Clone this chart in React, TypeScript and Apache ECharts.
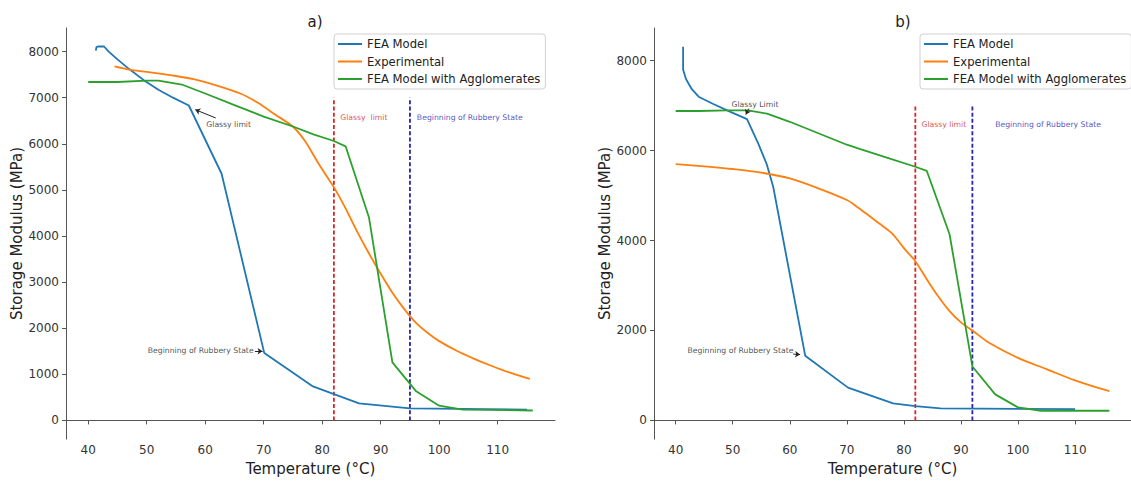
import React, { useEffect, useRef } from "react";
import * as echarts from "echarts";

// Axis ticks
const X_TICKS = [40, 50, 60, 70, 80, 90, 100, 110];
const Y_TICKS_A = [0, 1000, 2000, 3000, 4000, 5000, 6000, 7000, 8000];
const Y_TICKS_B = [0, 2000, 4000, 6000, 8000];

const SERIES_NAMES = ["FEA Model", "Experimental", "FEA Model with Agglomerates"];

// Panel a) — temperature (°C), storage modulus (MPa)
const FEA_A: [number, number][] = [
  [41.3, 8020], [41.4, 8095], [41.7, 8110], [42.7, 8110], [43.5, 8000], [45, 7830],
  [47, 7620], [49.5, 7380], [52, 7170], [54.5, 7000], [57.2, 6830], [62.8, 5350],
  [70.1, 1460], [78.3, 745], [86.3, 370], [95, 260], [115, 235],
];
const EXP_A: [number, number][] = [
  [44.5, 7680], [47, 7610], [50, 7560], [55, 7470], [58, 7400], [62, 7260], [66, 7090],
  [69, 6890], [72, 6630], [75, 6370], [77, 6070], [79, 5650], [81, 5250], [82, 5060],
  [84, 4600], [86, 4090], [88, 3620], [90, 3180], [92, 2770], [94, 2420], [96, 2120],
  [98, 1900], [100, 1720], [103, 1510], [106, 1335], [109, 1180], [112, 1040], [115.5, 900],
];
const AGG_A: [number, number][] = [
  [40, 7340], [45, 7340], [50, 7370], [52, 7370], [56, 7285], [60, 7090], [65, 6840],
  [70, 6590], [75, 6375], [78.5, 6205], [82, 6060], [84, 5945], [88, 4400], [92, 1260],
  [96, 640], [100, 320], [104, 235], [116, 215],
];

// Panel b)
const FEA_B: [number, number][] = [
  [41.3, 8310], [41.3, 7800], [41.8, 7590], [42.8, 7370], [44.1, 7190], [46.5, 7040],
  [49.6, 6860], [52.5, 6700], [54.5, 6150], [56, 5680], [57.1, 5190], [62.7, 1440],
  [70.2, 730], [78.1, 380], [82, 320], [86.4, 270], [110, 250],
];
const EXP_B: [number, number][] = [
  [40, 5700], [45, 5650], [50, 5590], [55, 5510], [60, 5380], [65, 5160], [70, 4900],
  [72, 4730], [74, 4540], [76, 4350], [78, 4150], [80, 3830], [82, 3540], [84, 3140],
  [86, 2760], [88, 2430], [90, 2180], [92, 2000], [95, 1720], [100, 1390], [105, 1140],
  [110, 890], [116, 650],
];
const AGG_B: [number, number][] = [
  [40, 6880], [44, 6880], [49, 6895], [52.7, 6895], [56, 6820], [60, 6640], [65, 6385],
  [70, 6130], [72.5, 6025], [77, 5845], [82, 5640], [84, 5550], [88, 4140], [92, 1200],
  [96, 580], [100, 290], [104, 215], [116, 215],
];

// Transition markers: [glassy limit, beginning of rubbery state] temperatures
const LIMITS_A = [82, 95];
const LIMITS_B = [82, 92];
const LIMIT_TOP = 7000;

const COLORS = ["#1f77b4", "#ff7f0e", "#2ca02c"];
const RED = "#d62728";
const NAVY = "#2626b0";
const FONT = "DejaVu Sans";

type Note = { text: string; at: [number, number]; color: string };
type Arrow = { from: [number, number]; to: [number, number] };

const NOTES_A: Note[] = [
  { text: "Glassy limit", at: [60.1, 6418], color: "#222" },
  { text: "Beginning of Rubbery State", at: [50.1, 1511], color: "#222" },
  { text: "Glassy  limit", at: [83.0, 6560], color: RED },
  { text: "Beginning of Rubbery State", at: [96.1, 6560], color: NAVY },
];
const ARROWS_A: Arrow[] = [
  { from: [61.8, 6560], to: [58.3, 6740] },
  { from: [68.5, 1500], to: [69.8, 1500] },
];
const NOTES_B: Note[] = [
  { text: "Glassy Limit", at: [49.7, 7017], color: "#222" },
  { text: "Beginning of Rubbery State", at: [42.0, 1563], color: "#222" },
  { text: "Glassy limit", at: [83.0, 6570], color: RED },
  { text: "Beginning of Rubbery State", at: [95.9, 6570], color: NAVY },
];
const ARROWS_B: Arrow[] = [
  { from: [52.8, 6930], to: [52.3, 6800] },
  { from: [60.6, 1475], to: [61.8, 1465] },
];

function panelSeries(
  idx: number,
  curves: [number, number][][],
  limits: number[],
  notes: Note[],
  arrows: Arrow[]
) {
  const out: any[] = [];
  curves.forEach((d, i) => {
    out.push({
      type: "line",
      name: SERIES_NAMES[i],
      xAxisIndex: idx,
      yAxisIndex: idx,
      data: d,
      symbol: "none",
      // the measured curve is a smooth trace; the model curves are piecewise linear
      smooth: i === 1 ? 0.3 : false,
      color: COLORS[i],
      lineStyle: { width: 1.8, color: COLORS[i] },
      z: 3,
    });
  });
  limits.forEach((t, i) => {
    out.push({
      type: "line",
      name: `limit-${idx}-${i}`,
      xAxisIndex: idx,
      yAxisIndex: idx,
      data: [
        [t, 0],
        [t, LIMIT_TOP],
      ],
      symbol: "none",
      lineStyle: { width: 1.8, color: i === 0 ? RED : NAVY, type: [4, 2.2] },
      z: 2,
    });
  });
  out.push({
    type: "scatter",
    name: `notes-${idx}`,
    xAxisIndex: idx,
    yAxisIndex: idx,
    symbolSize: 1,
    itemStyle: { color: "rgba(0,0,0,0)" },
    data: notes.map((n) => ({
      value: n.at,
      label: {
        show: true,
        position: "right",
        distance: 0,
        formatter: n.text,
        color: n.color,
        fontSize: 7.7,
        fontFamily: FONT,
      },
    })),
    z: 4,
  });
  out.push({
    type: "line",
    name: `arrows-${idx}`,
    xAxisIndex: idx,
    yAxisIndex: idx,
    data: [],
    markLine: {
      silent: true,
      symbol: ["none", "arrow"],
      symbolSize: 5,
      label: { show: false },
      lineStyle: { color: "#222", width: 1, type: "solid" },
      data: arrows.map((a) => [{ coord: a.from }, { coord: a.to }]),
    },
  });
  return out;
}

const plain = (v: number) => String(v);

export default function App() {
  const ref = useRef<HTMLDivElement>(null);

  useEffect(() => {
    if (!ref.current) return;
    const chart = echarts.init(ref.current, undefined, { renderer: "svg" });
    const line = { show: true, lineStyle: { color: "#555", width: 1 } };
    const xAxis = (gridIndex: number) => ({
      type: "value",
      gridIndex,
      min: 36.2,
      max: 119.8,
      axisLine: line,
      splitLine: { show: false },
      axisTick: { show: true, length: 4, lineStyle: { color: "#555" }, customValues: X_TICKS },
      axisLabel: { color: "#333", fontSize: 12, margin: 5, fontFamily: FONT, customValues: X_TICKS, formatter: plain },
      name: "Temperature (°C)",
      nameLocation: "middle",
      nameGap: 17,
      nameTextStyle: { fontSize: 15, color: "#222", fontFamily: FONT },
    });
    const yAxis = (gridIndex: number, min: number, max: number, ticks: number[]) => ({
      type: "value",
      gridIndex,
      min,
      max,
      axisLine: line,
      splitLine: { show: false },
      axisTick: { show: true, length: 4, lineStyle: { color: "#555" }, customValues: ticks },
      axisLabel: { color: "#333", fontSize: 12, margin: 7, fontFamily: FONT, customValues: ticks, formatter: plain },
      name: "Storage Modulus (MPa)",
      nameLocation: "middle",
      nameGap: 31,
      nameTextStyle: { fontSize: 15, color: "#222", fontFamily: FONT },
    });
    const legend = (left: number) => ({
      orient: "vertical",
      left,
      top: 34,
      data: SERIES_NAMES,
      icon: "rect",
      itemWidth: 24,
      itemHeight: 2,
      itemGap: 3.5,
      padding: [3, 5, 3, 4],
      backgroundColor: "#fff",
      borderColor: "#d0d0d0",
      borderWidth: 1,
      borderRadius: 3,
      textStyle: { fontSize: 11.6, color: "#222", fontFamily: FONT, lineHeight: 14 },
      selectedMode: false,
    });

    chart.setOption({
      animation: false,
      backgroundColor: "#fff",
      textStyle: { fontFamily: FONT },
      title: [
        { text: "a)", left: 310, top: 9, textAlign: "center", textStyle: { fontSize: 15, fontWeight: "normal", color: "#222", fontFamily: FONT } },
        { text: "b)", left: 898, top: 9, textAlign: "center", textStyle: { fontSize: 15, fontWeight: "normal", color: "#222", fontFamily: FONT } },
      ],
      grid: [
        { left: 66, top: 28, width: 489, height: 420 },
        { left: 654, top: 28, width: 489, height: 420 },
      ],
      xAxis: [xAxis(0), xAxis(1)],
      yAxis: [yAxis(0, -405, 8511, Y_TICKS_A), yAxis(1, -415, 8725, Y_TICKS_B)],
      legend: [legend(334), legend(920)],
      series: [
        ...panelSeries(0, [FEA_A, EXP_A, AGG_A], LIMITS_A, NOTES_A, ARROWS_A),
        ...panelSeries(1, [FEA_B, EXP_B, AGG_B], LIMITS_B, NOTES_B, ARROWS_B),
      ],
    });
    return () => chart.dispose();
  }, []);

  return (
    <div
      ref={ref}
      style={{ position: "fixed", left: 0, top: 0, width: 1131, height: 481, overflow: "hidden" }}
    />
  );
}
